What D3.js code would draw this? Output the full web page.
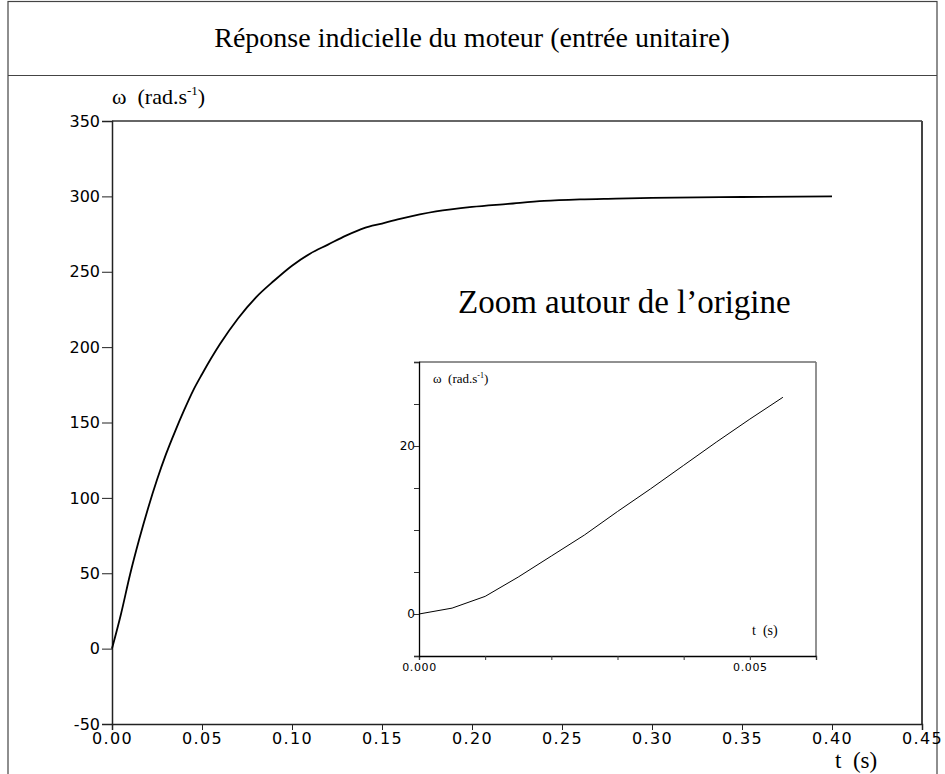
<!DOCTYPE html>
<html>
<head>
<meta charset="utf-8">
<script src="https://cdn.jsdelivr.net/npm/d3@7"></script>
<style>
  body { margin:0; background:#fff; }
  svg text { fill:#000; white-space:pre; }
  .tick text { font-family:"DejaVu Sans", sans-serif; }
</style>
</head>
<body>
<svg id="chart" width="945" height="774"></svg>
<script>
// main step response
const tMain = [0,0.005,0.01,0.015,0.02,0.025,0.03,0.035,0.04,0.045,0.05,0.06,0.07,0.08,0.09,0.10,0.11,0.12,0.13,0.14,0.15,0.16,0.18,0.20,0.22,0.24,0.26,0.28,0.30,0.35,0.40];
const wMain = [0,23,49,72,93,112,129,144,158,171,182,202,219,233,244,254,262,268,274,279,282,285,290,293,295,297,298,298.5,299,299.6,300];
// zoom near the origin
const tZoom = [0,0.0005,0.001,0.0015,0.002,0.0025,0.003,0.0035,0.004,0.0045,0.005,0.0055];
const wZoom = [0,0.7,2.1,4.4,6.9,9.4,12.2,14.9,17.7,20.5,23.2,25.8];
const xTicksMain = [0,0.05,0.10,0.15,0.20,0.25,0.30,0.35,0.40,0.45];
const yTicksMain = [-50,0,50,100,150,200,250,300,350];
const xTicksZoom = [0,0.001,0.002,0.003,0.004,0.005,0.006];
const yTicksZoom = [-5,0,5,10,15,20,25,30];
const xLabelsZoom = [0,0.005];
const yLabelsZoom = [0,20];

const svg = d3.select('#chart');
const serif = '"Liberation Serif", "Times New Roman", serif';

// outer frame + title band
svg.append('rect').attr('x',8).attr('y',1.5).attr('width',929).attr('height',790)
  .attr('fill','none').attr('stroke','#444').attr('stroke-width',1.2);
svg.append('line').attr('x1',8).attr('x2',937).attr('y1',75.5).attr('y2',75.5)
  .attr('stroke','#444').attr('stroke-width',1.2);
svg.append('text').attr('x',472).attr('y',47).attr('text-anchor','middle')
  .attr('font-family',serif).attr('font-size',28)
  .text('Réponse indicielle du moteur (entrée unitaire)');

// main plot
const x = d3.scaleLinear().domain([0,0.45]).range([112,922]);
const y = d3.scaleLinear().domain([-50,350]).range([724,121]);

svg.append('line').attr('x1',x(0)).attr('x2',x(0.45)).attr('y1',y(350)).attr('y2',y(350)).attr('stroke','#666').attr('stroke-width',2);
svg.append('line').attr('x1',x(0.45)).attr('x2',x(0.45)).attr('y1',y(350)).attr('y2',y(-50)).attr('stroke','#444').attr('stroke-width',2);

const gx = svg.append('g').attr('transform',`translate(0,${y(-50)})`)
  .call(d3.axisBottom(x).tickValues(xTicksMain).tickFormat(d3.format('.2f')).tickSize(6).tickPadding(3));
gx.selectAll('text').attr('font-size',16).attr('letter-spacing',1.3);
const gy = svg.append('g').attr('transform',`translate(${x(0)},0)`)
  .call(d3.axisLeft(y).tickValues(yTicksMain).tickFormat(d=>d<0?'-'+Math.abs(d):d).tickSize(10).tickPadding(2));
gy.selectAll('text').attr('font-size',16);
[gx,gy].forEach(g=>{ g.select('.domain').attr('stroke','#222').attr('stroke-width',1.5); g.selectAll('.tick line').attr('stroke','#222'); });

svg.append('path').datum(d3.zip(tMain,wMain))
  .attr('fill','none').attr('stroke','#000').attr('stroke-width',1.8)
  .attr('d', d3.line().x(d=>x(d[0])).y(d=>y(d[1])).curve(d3.curveMonotoneX));

const yl = svg.append('text').attr('x',112).attr('y',104).attr('font-family',serif).attr('font-size',22);
yl.append('tspan').text('ω  (rad.s');
yl.append('tspan').attr('dy',-9).attr('font-size',13).text('-1');
yl.append('tspan').attr('dy',9).text(')');
svg.append('text').attr('x',835).attr('y',768).attr('font-family',serif).attr('font-size',23).text('t  (s)');

svg.append('text').attr('x',458).attr('y',313).attr('font-family',serif).attr('font-size',33)
  .text('Zoom autour de l’origine');

// inset
const xi = d3.scaleLinear().domain([0,0.006]).range([419,816]);
const yi = d3.scaleLinear().domain([-5,30]).range([656,362]);

svg.append('line').attr('x1',xi(0)).attr('x2',xi(0.006)).attr('y1',yi(30)).attr('y2',yi(30)).attr('stroke','#222').attr('stroke-width',1);
svg.append('line').attr('x1',xi(0.006)).attr('x2',xi(0.006)).attr('y1',yi(30)).attr('y2',yi(-5)).attr('stroke','#777').attr('stroke-width',1.6);

const gxi = svg.append('g').attr('transform',`translate(0,${yi(-5)})`)
  .call(d3.axisBottom(xi).tickValues(xTicksZoom).tickFormat(d=>xLabelsZoom.includes(d)?d3.format('.3f')(d):'').tickSize(4).tickPadding(3));
gxi.selectAll('text').attr('font-size',11).attr('letter-spacing',0.6);
const gyi = svg.append('g').attr('transform',`translate(${xi(0)},0)`)
  .call(d3.axisLeft(yi).tickValues(yTicksZoom).tickFormat(d=>yLabelsZoom.includes(d)?d:'').tickSize(5).tickPadding(-1));
gyi.selectAll('text').attr('font-size',12);
[gxi,gyi].forEach(g=>{ g.select('.domain').attr('stroke','#000').attr('stroke-width',1.3); g.selectAll('.tick line').attr('stroke','#333'); });

svg.append('path').datum(d3.zip(tZoom,wZoom))
  .attr('fill','none').attr('stroke','#000').attr('stroke-width',1)
  .attr('d', d3.line().x(d=>xi(d[0])).y(d=>yi(d[1])));

const yli = svg.append('text').attr('x',433).attr('y',383).attr('font-family',serif).attr('font-size',13);
yli.append('tspan').text('ω  (rad.s');
yli.append('tspan').attr('dy',-5).attr('font-size',8).text('-1');
yli.append('tspan').attr('dy',5).text(')');
svg.append('text').attr('x',752).attr('y',635).attr('font-family',serif).attr('font-size',14).text('t  (s)');
</script>
</body>
</html>
